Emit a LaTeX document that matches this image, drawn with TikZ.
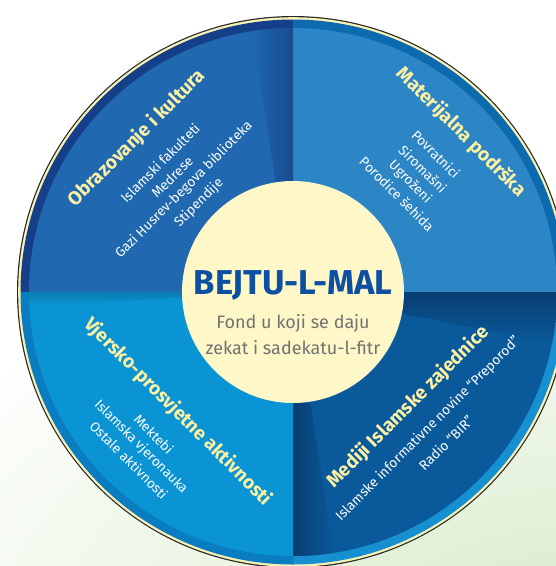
\documentclass[tikz,border=0pt]{standalone}
\usepackage{fontspec}
\setmainfont{Fira Sans}
\usetikzlibrary{shadings}
\definecolor{bgR}{HTML}{D6EAC6}
\definecolor{cream}{HTML}{F8F1B6}
\definecolor{inner}{HTML}{FEF8C8}
\definecolor{tl}{HTML}{2069B1}
\definecolor{tlband}{HTML}{163F8A}
\definecolor{tldark}{HTML}{174B8E}
\definecolor{tr}{HTML}{2C86C6}
\definecolor{trband}{HTML}{0C6AAE}
\definecolor{bl}{HTML}{0A94D4}
\definecolor{blband}{HTML}{0A7DC0}
\definecolor{bldark}{HTML}{0A7CB0}
\definecolor{br}{HTML}{0A5A9B}
\definecolor{brband}{HTML}{1690D0}
\definecolor{brdark}{HTML}{083E72}
\definecolor{heady}{HTML}{FCF1A2}
\definecolor{titleblue}{HTML}{0D4FA3}
\definecolor{subgray}{HTML}{727272}
\begin{document}
\begin{tikzpicture}[x=1pt,y=-1pt,
  head/.style={font=\fontsize{19}{22}\selectfont\bfseries, text=heady, inner sep=0pt},
  item/.style={font=\fontsize{13.6}{16}\selectfont, text=white, inner sep=0pt}]
\useasboundingbox (0,0) rectangle (556,566);
\fill[white] (0,0) rectangle (556,566);
\begin{scope}
\clip (0,0) rectangle (556,566);
\shade[inner color=bgR, outer color=white] (600,660) ellipse (800 and 450);
\end{scope}
\coordinate (C) at (293,292);
% outer rings
\fill[black!85] (C) circle (276);
\fill[cream] (C) circle (274.8);
\fill[tlband] (C) -- ++(180:272.5) arc[start angle=180,end angle=270,radius=272.5] -- cycle;
\fill[trband] (C) -- ++(270:272.5) arc[start angle=270,end angle=360,radius=272.5] -- cycle;
\fill[brband] (C) -- ++(0:272.5) arc[start angle=0,end angle=90,radius=272.5] -- cycle;
\fill[blband] (C) -- ++(90:272.5) arc[start angle=90,end angle=180,radius=272.5] -- cycle;
% sectors
\fill[tl] (C) -- ++(180:264) arc[start angle=180,end angle=270,radius=264] -- cycle;
\fill[tr] (C) -- ++(270:264) arc[start angle=270,end angle=360,radius=264] -- cycle;
\fill[br] (C) -- ++(0:264) arc[start angle=0,end angle=90,radius=264] -- cycle;
\fill[bl] (C) -- ++(90:264) arc[start angle=90,end angle=180,radius=264] -- cycle;
% shadows
\begin{scope}
\clip (C) -- ++(180:264) arc[start angle=180,end angle=270,radius=264] -- cycle;
\shade[left color=tl, right color=tldark] (293,292) -- (293,20) -- (250,20) -- cycle;
\end{scope}
\begin{scope}
\clip (C) -- ++(90:264) arc[start angle=90,end angle=180,radius=264] -- cycle;
\shade[top color=bldark, bottom color=bl] (293,292) -- (20,292) -- (20,306) -- cycle;
\end{scope}
\begin{scope}
\clip (C) -- ++(0:264) arc[start angle=0,end angle=90,radius=264] -- cycle;
\shade[top color=brdark, bottom color=br] (293,292) -- (560,292) -- (560,345) -- cycle;
\shade[left color=brdark, right color=br] (293,292) -- (293,560) -- (335,560) -- cycle;
\end{scope}
% inner circle
\fill[inner] (C) circle (111);
\node[font=\fontsize{34.5}{38}\selectfont\bfseries, text=titleblue, anchor=base, inner sep=0pt] (title) at (293,294) {BEJTU-L-MAL};
\node[font=\fontsize{18}{22}\selectfont, text=subgray, anchor=base, inner sep=0pt] (sub1) at (293,328) {Fond u koji se daju};
\node[font=\fontsize{18}{22}\selectfont, text=subgray, anchor=base, inner sep=0pt] (sub2) at (293,354) {zekat i sadekatu-l-fitr};
% top-left
\node[head, rotate=45] (h1) at (137,138) {Obrazovanje i kultura};
\node[item, rotate=45] (a1) at (160,163) {Islamski fakulteti};
\node[item, rotate=45] (a2) at (172,177) {Medrese};
\node[item, rotate=45] (a3) at (184,190) {Gazi Husrev-begova biblioteka};
\node[item, rotate=45] (a4) at (199,203) {Stipendije};
% top-right
\node[head, rotate=-45] (h2) at (461,132) {Materijalna podrška};
\node[item, rotate=-45] (b1) at (436,154) {Povratnici};
\node[item, rotate=-45] (b2) at (423,169) {Siromašni};
\node[item, rotate=-45] (b3) at (410,182) {Ugroženi};
\node[item, rotate=-45] (b4) at (397,194) {Porodice šehida};
% bottom-left
\node[head, rotate=-45] (h3) at (178,412) {Vjersko-prosvjetne aktivnosti};
\node[item, rotate=-45] (c1) at (154,434) {Mektebi};
\node[item, rotate=-45] (c2) at (141,447) {Islamska vjeronauka};
\node[item, rotate=-45] (c3) at (129,460) {Ostale aktivnosti};
% bottom-right
\node[head, rotate=45] (h4) at (408,407) {Mediji Islamske zajednice};
\node[item, rotate=45] (d1) at (428,429) {Islamske informativne novine “Preporod”};
\node[item, rotate=45] (d2) at (446,443) {Radio “BIR”};
\end{tikzpicture}
\end{document}
